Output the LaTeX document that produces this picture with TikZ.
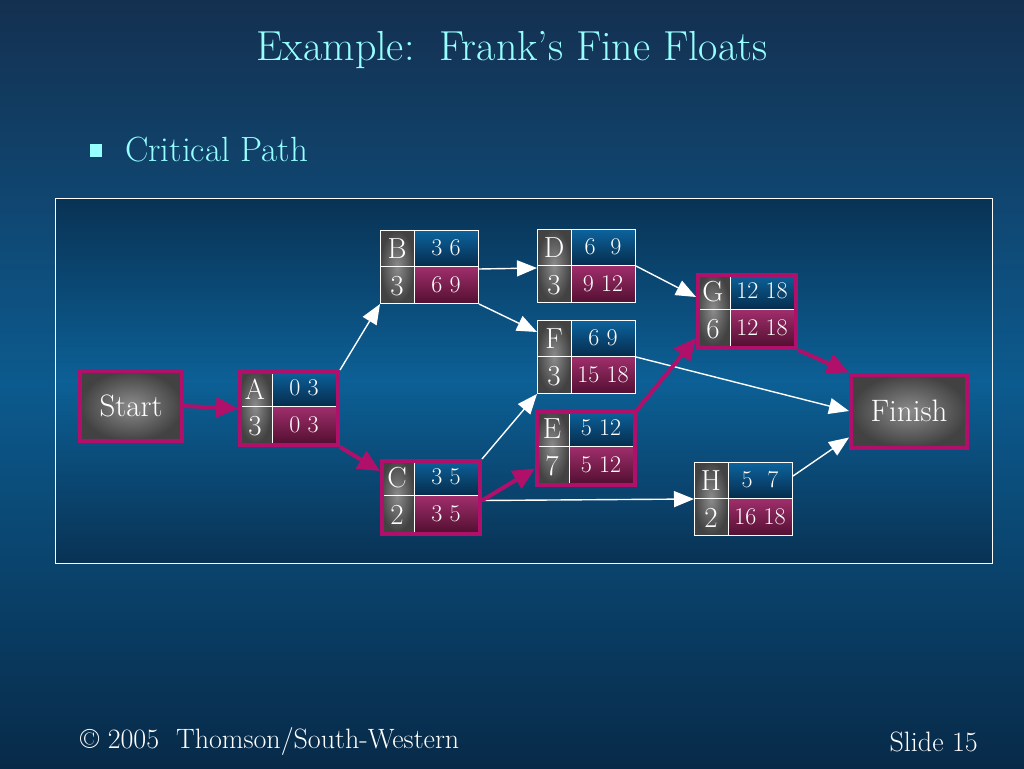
\documentclass[tikz,border=0pt]{standalone}
\usepackage{fontspec}
\usetikzlibrary{arrows.meta,calc,positioning}

\definecolor{bgtop}{RGB}{20,48,80}
\definecolor{bgmid}{RGB}{12,90,142}
\definecolor{bgbot}{RGB}{8,42,72}
\definecolor{paneledge}{RGB}{9,50,84}
\definecolor{panelmid}{RGB}{12,96,150}
\definecolor{titlecyan}{RGB}{150,255,255}
\definecolor{crit}{RGB}{176,16,106}
\definecolor{blueup}{RGB}{12,100,158}
\definecolor{bluedn}{RGB}{6,44,76}
\definecolor{redup}{RGB}{160,46,108}
\definecolor{reddn}{RGB}{84,16,50}
\definecolor{grayin}{RGB}{140,140,140}
\definecolor{grayout}{RGB}{66,66,66}

\tikzset{
  graycell/.style={inner color=grayin,outer color=grayout},
  bluecell/.style={top color=blueup,bottom color=bluedn},
  redcell/.style={top color=redup,bottom color=reddn},
  actnode/.style={draw=white,line width=1pt,anchor=north west,
    minimum width=98pt,minimum height=73pt,inner sep=0pt},
  plain/.style={},
  critbox/.style={draw=crit,line width=4pt},
  lettxt/.style={text=white,font=\fontsize{29}{29}\selectfont,inner sep=0pt},
  numtxt/.style={text=white,font=\fontsize{24}{24}\selectfont,inner sep=0pt},
  endbox/.style={draw=crit,line width=4pt,inner color=grayin,outer color=grayout,
    text=white,font=\fontsize{31}{31}\selectfont},
  flow/.style={draw=white,line width=1.4pt,-{Triangle[length=20pt,width=16pt]}},
  critflow/.style={draw=crit,line width=4pt,-{Triangle[length=22pt,width=20pt]}},
  slidetxt/.style={text=titlecyan,inner sep=0pt},
  foottxt/.style={text=white,inner sep=0pt,font=\fontsize{28}{28}\selectfont}
}

% #1 name, #2 x, #3 y (top left), #4 letter, #5 duration,
% #6 earliest start/finish, #7 latest start/finish, #8 box style
\newcommand{\actbox}[8]{%
  \shade[graycell] (#2,#3) rectangle ++(34,73);
  \shade[bluecell] (#2+34,#3) rectangle ++(64,36.5);
  \shade[redcell] (#2+34,#3+36.5) rectangle ++(64,36.5);
  \draw[white,line width=1pt] (#2,#3+36.5) -- ++(98,0) (#2+34,#3) -- ++(0,73);
  \node[actnode,#8] (#1) at (#2,#3) {};
  \node[lettxt] (#1-let) at (#2+17,#3+19) {#4};
  \node[lettxt] (#1-dur) at (#2+17,#3+56) {#5};
  \node[numtxt] (#1-es) at (#2+66,#3+18) {#6};
  \node[numtxt] (#1-ls) at (#2+66,#3+55) {#7};
}

\begin{document}
\begin{tikzpicture}[x=1pt,y=-1pt]
  \useasboundingbox (0,0) rectangle (1024,768);
  \shade[top color=bgtop,bottom color=bgbot,middle color=bgmid] (0,0) rectangle (1024,768);
  \node[slidetxt,font=\fontsize{42}{42}\selectfont] (title) at (512,50) {Example:\ \ Frank's Fine Floats};
  \fill[titlecyan] (90,144) rectangle (102,157);
  \node[slidetxt,anchor=west,font=\fontsize{35}{35}\selectfont] (bullet) at (125,150) {Critical Path};
  % network panel
  \shade[top color=paneledge,bottom color=paneledge,middle color=panelmid] (55,198) rectangle (992,563);
  \draw[white,line width=1pt] (55,198) rectangle (992,563);
  \node[endbox,minimum width=102pt,minimum height=70pt] (Start) at (131,406) {Start};
  \node[endbox,minimum width=116pt,minimum height=73pt] (Finish) at (909,411) {Finish};
  \actbox{A}{238}{370}{A}{3}{0 3}{0 3}{critbox}
  \actbox{B}{380}{230}{B}{3}{3 6}{6 9}{plain}
  \actbox{C}{380}{459}{C}{2}{3 5}{3 5}{critbox}
  \actbox{D}{537}{229}{D}{3}{6\ \ 9}{9 12}{plain}
  \actbox{E}{535}{410}{E}{7}{5 12}{5 12}{critbox}
  \actbox{F}{537}{320}{F}{3}{6 9}{15 18}{plain}
  \actbox{G}{696}{273}{G}{6}{12 18}{12 18}{critbox}
  \actbox{H}{694}{462}{H}{2}{5\ \ 7}{16 18}{plain}
  % arrows
  \draw[flow] (A.north east) -- (B.south west);
  \draw[flow] ($(B.east)+(0,2)$) -- ($(D.west)+(0,2)$);
  \draw[flow] (B.south east) -- ($(F.north west)+(0,12)$);
  \draw[flow] (C.north east) -- (F.south west);
  \draw[flow] ($(C.east)+(0,3)$) -- (H.west);
  \draw[flow] (D.east) -- ($(G.north west)+(0,24)$);
  \draw[flow] (F.east) -- (Finish.west);
  \draw[flow] ($(H.north east)+(0,14)$) -- ($(Finish.south west)+(0,-12)$);
  \draw[critflow] (Start.east) -- (A.west);
  \draw[critflow] (A.south east) -- ($(C.north west)+(0,12)$);
  \draw[critflow] ($(C.east)+(0,3)$) -- ($(E.west)+(0,20)$);
  \draw[critflow] (E.north east) -- ($(G.south west)+(0,-12)$);
  \draw[critflow] (G.south east) -- (Finish.north west);
  % footer
  \node[foottxt,anchor=west] (copy) at (80,741) {\textcopyright\ 2005\ \ Thomson/South-Western};
  \node[foottxt,anchor=east] (slide) at (978,742) {Slide 15};
\end{tikzpicture}
\end{document}
